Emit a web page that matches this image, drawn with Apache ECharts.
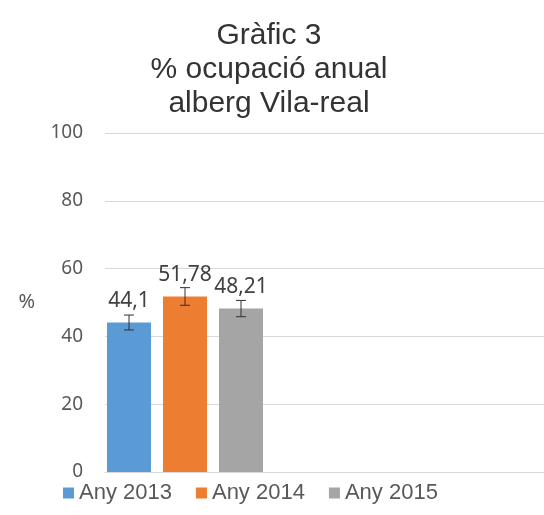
<!DOCTYPE html>
<html>
<head>
<meta charset="utf-8">
<script src="https://cdn.jsdelivr.net/npm/echarts@6/dist/echarts.min.js"></script>
<style>html,body{margin:0;padding:0;background:#fff;}#c{width:544px;height:515px;}</style>
</head>
<body>
<div id="c"></div>
<script>
const seriesNames = ['Any 2013', 'Any 2014', 'Any 2015'];
const values = [44.1, 51.78, 48.21];
const errors = [2.2, 2.6, 2.4];
const valueLabels = ['44,1', '51,78', '48,21'];
const yTicks = [0, 20, 40, 60, 80, 100];
const colors = ['#5B9BD5', '#ED7D31', '#A5A5A5'];
const titleText = 'Gràfic 3\n% ocupació anual\nalberg Vila-real';

const chart = echarts.init(document.getElementById('c'), null, {renderer: 'canvas'});

const barSeries = seriesNames.map((name, i) => ({
  name: name,
  type: 'bar',
  xAxisIndex: 1,
  yAxisIndex: 1,
  barWidth: 44,
  barGap: '-100%',
  itemStyle: {color: colors[i]},
  label: {
    show: true,
    position: 'top',
    distance: 11,
    fontFamily: 'Noto Sans',
    fontSize: 21,
    color: '#404040',
    formatter: () => valueLabels[i]
  },
  data: values.map((v, j) => j === i ? v : '-')
}));

const errorSeries = {
  type: 'custom',
  xAxisIndex: 1,
  yAxisIndex: 1,
  silent: true,
  z: 5,
  data: values.map((v, j) => [j, v, errors[j]]),
  renderItem: function (params, api) {
    const x = api.value(0), v = api.value(1), e = api.value(2);
    const top = api.coord([x, v + e]);
    const bot = api.coord([x, v - e]);
    const hw = 5;
    const style = {stroke: '#303030', lineWidth: 1};
    return {
      type: 'group',
      children: [
        {type: 'line', shape: {x1: top[0], y1: top[1], x2: bot[0], y2: bot[1]}, style: style},
        {type: 'line', shape: {x1: top[0] - hw, y1: top[1], x2: top[0] + hw, y2: top[1]}, style: style},
        {type: 'line', shape: {x1: bot[0] - hw, y1: bot[1], x2: bot[0] + hw, y2: bot[1]}, style: style}
      ]
    };
  }
};

chart.setOption({
  animation: false,
  backgroundColor: '#fff',
  title: {
    text: titleText,
    left: 264,
    textAlign: 'center',
    top: 14,
    textStyle: {
      fontFamily: 'Liberation Sans',
      fontSize: 30,
      fontWeight: 'normal',
      lineHeight: 34,
      color: '#333333'
    }
  },
  legend: {
    bottom: 6,
    left: 58,
    icon: 'rect',
    itemWidth: 11,
    itemHeight: 11,
    itemGap: 24,
    data: seriesNames,
    textStyle: {fontFamily: 'Liberation Sans', fontSize: 22, color: '#595959'}
  },
  grid: [
    {left: 105, right: 0, top: 133, bottom: 43},
    {left: 101, width: 168, top: 133, bottom: 43}
  ],
  xAxis: [
    {gridIndex: 0, type: 'category', data: [''], axisTick: {show: false}, axisLabel: {show: false},
     axisLine: {lineStyle: {color: '#D9D9D9'}}},
    {gridIndex: 1, type: 'category', data: seriesNames, show: false}
  ],
  yAxis: [
    {gridIndex: 0, type: 'value', min: yTicks[0], max: yTicks[yTicks.length - 1], interval: 20,
     name: '%', nameLocation: 'middle', nameRotate: 0, nameGap: 70,
     nameTextStyle: {fontFamily: 'Noto Sans', fontSize: 20, color: '#595959'},
     axisLine: {show: false}, axisTick: {show: false},
     axisLabel: {margin: 22, fontFamily: 'Noto Sans', fontSize: 19, color: '#595959'},
     splitLine: {lineStyle: {color: '#D9D9D9'}}},
    {gridIndex: 1, type: 'value', min: yTicks[0], max: yTicks[yTicks.length - 1], interval: 20, show: false,
     splitLine: {show: false}}
  ],
  series: [...barSeries, errorSeries]
});
</script>
</body>
</html>
